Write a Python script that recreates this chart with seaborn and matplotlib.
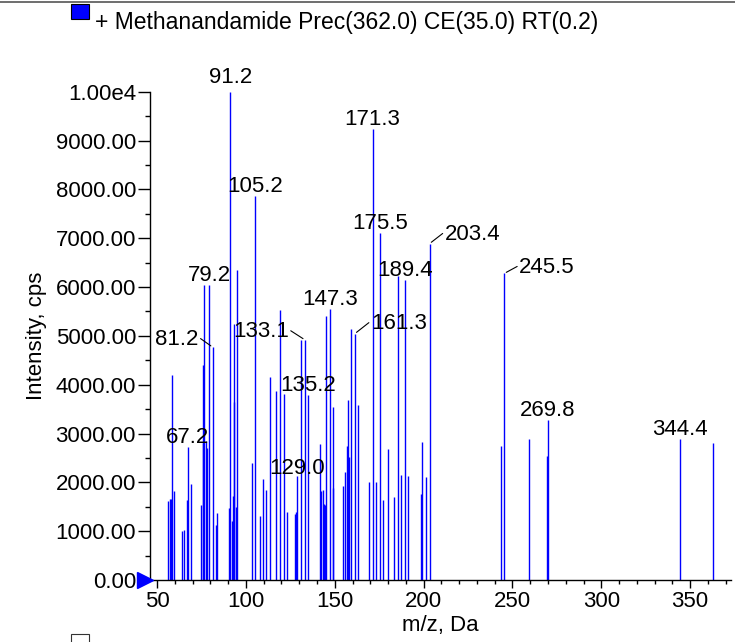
import numpy as np
import pandas as pd
import seaborn as sns
import matplotlib
matplotlib.use("Agg")
import matplotlib.pyplot as plt
from matplotlib.ticker import MultipleLocator, FuncFormatter
from matplotlib.patches import Rectangle
from matplotlib.lines import Line2D
from matplotlib.transforms import ScaledTranslation

# Peak list (m/z, intensity in cps)
mz = [56.3, 57.1, 57.6, 58.6, 59.3, 63.8, 65.1, 66.8, 67.2, 69.3,
      74.9, 75.8, 76.1, 76.4, 77.6, 78.3, 79.2, 81.2, 83.1, 83.8,
      90.4, 91.2, 92.2, 92.7, 93.1, 93.5, 94.6, 95.1, 103.2, 105.2,
      107.7, 109.4, 111.3, 113.3, 117.1, 119.3, 121.4, 123.3, 127.6, 128.1,
      129.0, 131.2, 133.1, 135.2, 141.5, 142.0, 143.2, 143.7, 144.3, 145.2,
      147.3, 148.9, 149.2, 154.8, 155.8, 156.7, 157.3, 158.2, 159.2, 161.3,
      163.3, 169.5, 171.3, 173.2, 175.5, 177.0, 180.2, 183.2, 185.6, 187.3,
      189.4, 191.2, 198.4, 199.3, 201.4, 203.4, 243.6, 245.5, 259.5, 269.5,
      269.8, 344.4, 362.7]
intensity = [1620, 1650, 1660, 4200, 1820, 1000, 1020, 1630, 2730, 1960,
             1540, 4400, 2800, 6050, 2850, 2700, 6050, 4770, 1130, 1380,
             1470, 9990, 1210, 1720, 3650, 5240, 1500, 6350, 2390, 7870,
             1310, 2065, 1850, 4150, 3865, 5520, 3800, 1400, 1360, 1385,
             2130, 4920, 4920, 3780, 2780, 1830, 1850, 1550, 1530, 5400,
             5540, 1890, 3545, 1920, 2215, 2740, 3695, 2510, 5150, 5045,
             3580, 2010, 9240, 2000, 7100, 1640, 2680, 1690, 6220, 2150,
             6150, 2140, 1770, 2820, 2100, 6890, 2740, 6280, 2880, 2540,
             3270, 2880, 2800]

# Annotated peaks
label_mz = [67.2, 79.2, 81.2, 91.2, 105.2, 129.0, 133.1, 135.2, 147.3,
            161.3, 171.3, 175.5, 189.4, 203.4, 245.5, 269.8, 344.4]

legend_text = "+ Methanandamide Prec(362.0) CE(35.0) RT(0.2)"

df = pd.DataFrame({"mz": mz, "intensity": intensity})

# labels drawn to the side with a short leader line: (text dx, text dy, side) in pixels
leader = {81.2: (-14, 2, "right"), 133.1: (-16, 2.5, "right"),
          161.3: (16, 4.5, "left"), 203.4: (15, 3.6, "left"),
          245.5: (14.7, 0.4, "left")}
label_dy = {91.2: 9, 129.0: 2}

sns.set_theme(style="ticks")
plt.rcParams["font.family"] = ["Liberation Sans", "DejaVu Sans"]
plt.rcParams["font.size"] = 16

W, H = 735, 642
fig = plt.figure(figsize=(W / 100, H / 100), dpi=100)
ax = fig.add_axes([150 / W, 1 - 580 / H, 581 / W, 488.3 / H])

ax.vlines(df["mz"], 0, df["intensity"], color="#0000ff", lw=1.0)

for m in label_mz:
    h = df.loc[(df["mz"] - m).abs().idxmin(), "intensity"]
    if m in leader:
        dx, dy, side = leader[m]
        ax.annotate(f"{m:.1f}", xy=(m, h), xytext=(dx, dy), textcoords="offset pixels",
                    ha=side, va="baseline", fontsize=16, color="black")
        sgn = 1 if side == "left" else -1
        ax.annotate("", xy=(m, h), xytext=(sgn * (abs(dx) - 2), dy + 6.5),
                    textcoords="offset pixels",
                    arrowprops=dict(arrowstyle="-", lw=0.8, color="black",
                                    shrinkA=0, shrinkB=1.5))
    else:
        ax.annotate(f"{m:.1f}", xy=(m, h), xytext=(0, label_dy.get(m, 4)),
                    textcoords="offset pixels",
                    ha="center", va="baseline", fontsize=16, color="black")

ax.set_xlim(46, 373)
ax.set_ylim(0, 10000)
ax.xaxis.set_major_locator(MultipleLocator(50))
ax.xaxis.set_minor_locator(MultipleLocator(10))
ax.yaxis.set_major_locator(MultipleLocator(1000))
ax.yaxis.set_minor_locator(MultipleLocator(500))
ax.yaxis.set_major_formatter(FuncFormatter(lambda v, p: "1.00e4" if v >= 10000 else f"{v:.2f}"))
ax.tick_params(axis="both", which="both", direction="out", width=1, color="black",
               labelsize=16, labelcolor="black")
ax.tick_params(axis="y", which="major", length=8.6, pad=1.5)
ax.tick_params(axis="y", which="minor", length=3.6)
ax.tick_params(axis="x", which="major", length=6, pad=2)
ax.tick_params(axis="x", which="minor", length=3)
for s in ["left", "bottom"]:
    ax.spines[s].set_color("black")
    ax.spines[s].set_linewidth(1)
sns.despine(ax=ax)
ax.set_xlabel("m/z, Da", fontsize=16, color="black", labelpad=2)
ax.set_ylabel("Intensity, cps", fontsize=16, color="black", labelpad=6)

# origin marker, tip on the y axis
ax.plot([0], [0], marker=">", ms=11, color="#0000ff",
        transform=ax.transAxes + ScaledTranslation(-5 / 100, 0, fig.dpi_scale_trans),
        clip_on=False, zorder=5)

# header line and legend boxes
fig.add_artist(Line2D([0, 1], [1 - 1.5 / H, 1 - 1.5 / H], color="#555555", lw=1.2))
fig.add_artist(Rectangle((71 / W, 1 - 19 / H), 18 / W, 15 / H, facecolor="#0000ff",
                         edgecolor="black", lw=0.8))
fig.text(95 / W, 1 - 22 / H, legend_text, fontsize=16.5, va="center", ha="left", color="black")
fig.add_artist(Rectangle((71 / W, -8 / H), 18 / W, 16 / H, facecolor="white",
                         edgecolor="#333333", lw=0.8))

fig.savefig("out.png", dpi=100)
